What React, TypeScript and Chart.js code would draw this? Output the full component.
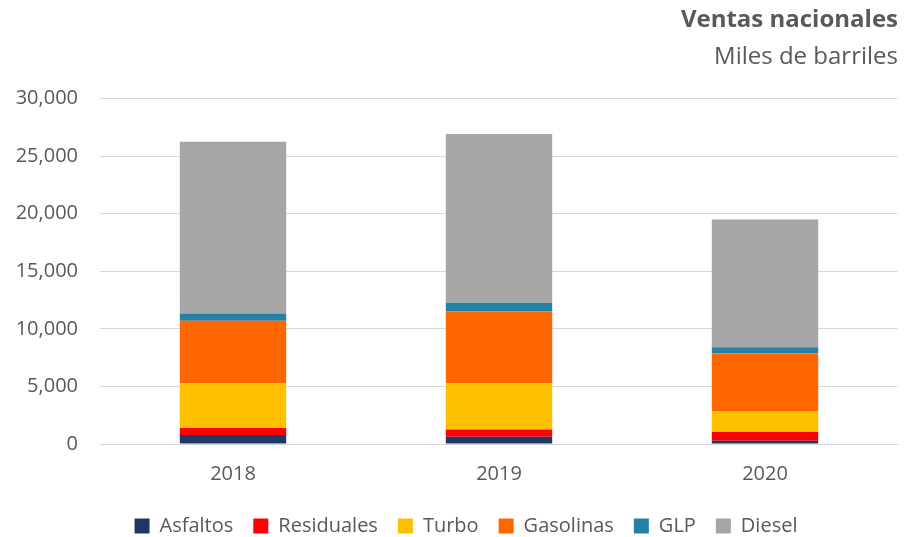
import React, { useEffect, useRef } from "react";
import { Chart, registerables } from "chart.js";

Chart.register(...registerables);

const categories = ["2018", "2019", "2020"];
const asfaltos = [790, 640, 290];
const residuales = [610, 610, 760];
const turbo = [3875, 4020, 1775];
const gasolinas = [5420, 6245, 5045];
const glp = [650, 750, 525];
const diesel = [14900, 14670, 11105];

const FONT = "'Open Sans', sans-serif";
const TEXT = "#595959";

const legendShift = {
  id: "legendShift",
  afterLayout(chart: any) {
    if (chart.legend) {
      chart.legend.left += 34;
    }
  },
};

export default function App() {
  const ref = useRef<HTMLCanvasElement>(null);
  useEffect(() => {
    const mk = (label: string, data: number[], color: string) => ({
      label,
      data,
      backgroundColor: color,
      borderWidth: 0,
      barPercentage: 0.4,
      categoryPercentage: 1,
    });
    const chart = new Chart(ref.current!, {
      type: "bar",
      data: {
        labels: categories,
        datasets: [
          mk("Asfaltos", asfaltos, "#1f3864"),
          mk("Residuales", residuales, "#ff0000"),
          mk("Turbo", turbo, "#ffc000"),
          mk("Gasolinas", gasolinas, "#ff6600"),
          mk("GLP", glp, "#2281a5"),
          mk("Diesel", diesel, "#a6a6a6"),
        ],
      },
      plugins: [legendShift],
      options: {
        animation: false,
        responsive: false,
        locale: "en-US",
        layout: { padding: { left: 0, right: 8, top: 6, bottom: -9 } },
        plugins: {
          title: {
            display: true,
            text: "Ventas nacionales",
            align: "end",
            color: TEXT,
            font: { family: FONT, size: 24, weight: "bold" },
            padding: { top: 0, bottom: 8 },
          },
          subtitle: {
            display: true,
            text: "Miles de barriles",
            align: "end",
            color: TEXT,
            font: { family: FONT, size: 24 },
            padding: { top: 0, bottom: 27 },
          },
          legend: {
            position: "bottom",
            labels: {
              color: TEXT,
              font: { family: FONT, size: 20 },
              boxWidth: 15,
              boxHeight: 15,
              padding: 20,
            },
          },
          tooltip: { enabled: false },
        },
        scales: {
          x: {
            stacked: true,
            grid: { display: false },
            border: { display: true, color: "#d9d9d9", width: 1 },
            ticks: { color: TEXT, font: { family: FONT, size: 20 }, padding: 10 },
          },
          y: {
            stacked: true,
            min: 0,
            max: 30000,
            border: { display: false },
            grid: { color: "#d9d9d9", drawTicks: false },
            ticks: {
              stepSize: 5000,
              color: TEXT,
              font: { family: FONT, size: 20 },
              padding: 22,
            },
            afterFit: (s: any) => {
              s.width = 100;
            },
          },
        },
      },
    } as any);
    return () => chart.destroy();
  }, []);
  return (
    <div style={{ position: "fixed", left: 0, top: 0, width: 906, height: 537 }}>
      <canvas ref={ref} width={906} height={537} />
    </div>
  );
}
